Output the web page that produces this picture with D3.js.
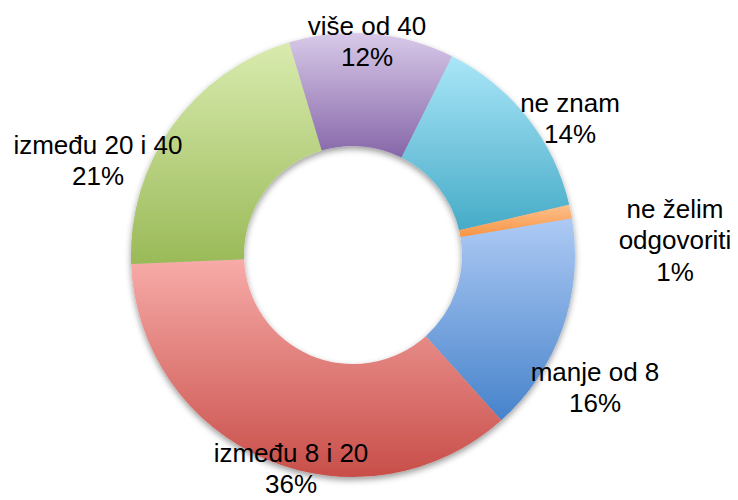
<!DOCTYPE html>
<html>
<head>
<meta charset="utf-8">
<script src="https://cdn.jsdelivr.net/npm/d3@7"></script>
<style>
  html, body { margin: 0; padding: 0; background: #fff; }
  svg { display: block; }
</style>
</head>
<body>
<div id="chart"></div>
<script>
// Answer categories and their shares (percent), clockwise order
const categories = ["manje od 8", "između 8 i 20", "između 20 i 40", "više od 40", "ne znam", "ne želim odgovoriti"];
const values = [16, 36, 21, 12, 14, 1];
const percentLabels = ["16%", "36%", "21%", "12%", "14%", "1%"];
// Label text split into lines
const labelLines = [["manje od 8"], ["između 8 i 20"], ["između 20 i 40"], ["više od 40"], ["ne znam"], ["ne želim", "odgovoriti"]];

// Gradient stops per slice: light top -> base colour bottom
const topColors = ["#adcaf4", "#f7aba8", "#d9ebaf", "#d8cae9", "#aae6f8", "#fdc08c"];
const bottomColors = ["#4783cb", "#c84e49", "#9aba58", "#8666a8", "#46abc7", "#f79444"];

// Label placement relative to the donut centre (layout, not data)
const labelOffsets = [[242, 132], [-62, 213], [-255, -95], [14, -214], [217, -137], [322, -15]];

const width = 738, height = 500;
const cx = 353, cy = 255;
const outerR = 222, innerR = 109;
const startAngle = 80.5 * Math.PI / 180;

const svg = d3.select("#chart").append("svg")
  .attr("width", width).attr("height", height);

const defs = svg.append("defs");

const shadow = defs.append("filter").attr("id", "shadow")
  .attr("x", "-20%").attr("y", "-20%").attr("width", "140%").attr("height", "140%");
shadow.append("feDropShadow")
  .attr("dx", 0).attr("dy", 3).attr("stdDeviation", 3)
  .attr("flood-color", "#000").attr("flood-opacity", 0.4);

categories.forEach((c, i) => {
  const g = defs.append("linearGradient").attr("id", "grad" + i)
    .attr("x1", 0).attr("y1", 0).attr("x2", 0).attr("y2", 1);
  g.append("stop").attr("offset", "0%").attr("stop-color", topColors[i]);
  g.append("stop").attr("offset", "100%").attr("stop-color", bottomColors[i]);
});

const pie = d3.pie().sort(null).value(d => d)
  .startAngle(startAngle).endAngle(startAngle + 2 * Math.PI);
const arcs = pie(values);

const arc = d3.arc().innerRadius(innerR).outerRadius(outerR);

const ring = svg.append("g")
  .attr("transform", `translate(${cx},${cy})`)
  .attr("filter", "url(#shadow)");

ring.selectAll("path")
  .data(arcs)
  .join("path")
  .attr("d", arc)
  .attr("fill", (d, i) => `url(#grad${i})`);

// Labels: category name line(s) followed by the percentage
const fontSize = 26, lineH = 31.5;
const labels = svg.append("g")
  .attr("font-family", "'Liberation Sans', Arial, Helvetica, sans-serif")
  .attr("font-size", fontSize)
  .attr("fill", "#000")
  .attr("text-anchor", "middle");

categories.forEach((c, i) => {
  const lines = labelLines[i].concat([percentLabels[i]]);
  const [dx, dy] = labelOffsets[i];
  const x = cx + dx;
  const yMid = cy + dy;
  const firstBaseline = yMid - (lines.length - 1) * lineH / 2 + fontSize * 0.36;
  const t = labels.append("text");
  lines.forEach((ln, k) => {
    t.append("tspan").attr("x", x).attr("y", firstBaseline + k * lineH).text(ln);
  });
});
</script>
</body>
</html>
